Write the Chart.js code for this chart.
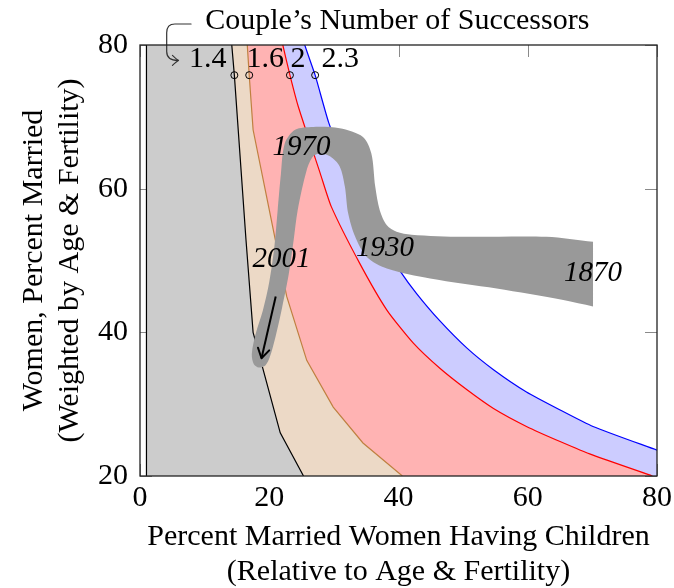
<!DOCTYPE html>
<html>
<head>
<meta charset="utf-8">
<script src="https://cdn.jsdelivr.net/npm/chart.js@4.4.1/dist/chart.umd.min.js"></script>
<style>
  html, body { margin: 0; padding: 0; background: #fff; }
  canvas { display: block; }
</style>
</head>
<body>
<canvas id="successorsChart" width="674" height="588"></canvas>
<script>
// ---- values ----
const xTicks = [0, 20, 40, 60, 80];
const yTicks = [20, 40, 60, 80];

const successorLevels = ['1.4', '1.6', '2', '2.3'];
const successorLabelX = [10.5, 19.4, 24.45, 31.0];
const successorLabelY = [78.05, 78.05, 78.05, 78.05];
const markerX = [14.6, 16.9, 23.2, 27.1];
const markerY = [75.8, 75.8, 75.8, 75.8];

// boundary curves: x = % having children, y = % married
const curve14X = [1, 1, 13.8, 14.2, 14.6, 16.4, 17.5, 21.7, 25.3];
const curve14Y = [20, 120, 84, 80, 75.8, 52.9, 40, 26, 20];
const curve16X = [1, 16.3, 16.6, 16.9, 17.5, 20.8, 22.7, 25.8, 29.9, 34.5, 40.6];
const curve16Y = [120, 84, 80, 75.8, 68.2, 53.5, 45, 36.1, 29.6, 24.6, 20];
const curve20X = [1, 21.1, 22.1, 23.2, 24.5, 27.9, 29.6, 34, 38.2, 42.3, 46.4, 50.6, 54.7, 59.8, 65, 70.1, 79.3];
const curve20Y = [120, 84, 80, 75.8, 71.4, 62.1, 57.5, 49.6, 43.1, 38.5, 35, 32, 29.4, 26.9, 24.8, 22.9, 20];
const curve23X = [1, 24.3, 25.5, 27.1, 29.2, 32, 35, 37.5, 40.2, 42.8, 46.3, 50.6, 54.7, 59.8, 65, 70.1, 80];
const curve23Y = [120, 84, 80, 75.8, 69.2, 62.5, 56.7, 52.5, 48.6, 45.4, 41.7, 37.8, 34.8, 31.7, 29.2, 26.9, 23.6];

// historical path band (outline, 1870 -> 1970 -> 2001 and back)
const bandX = [70.1, 62.9, 50, 42, 39.7, 38.2, 37.1, 36.4, 35.8, 34.5, 30.9, 26.8, 24, 22.4, 21.8, 21.3, 20.8, 20.0, 19.0, 17.9, 17.3, 17.6, 18.4, 19.4, 20.1, 21.0, 22.0, 23.0, 23.8, 24.4, 25.8, 26.8, 27.9, 29.4, 30.9, 31.7, 32.2, 33.3, 35.1, 38.2, 44.9, 55.2, 65.5, 70.1];
const bandY = [52.6, 53.3, 53.3, 53.6, 54, 54.9, 57, 60.3, 64.9, 67.2, 68.4, 68.6, 68.2, 66.3, 62, 57, 52, 47, 43, 39.8, 37, 35.6, 35.1, 35.4, 36.6, 39.5, 43.5, 48, 53, 57, 62.6, 64.5, 64.9, 64.5, 63.1, 60.3, 56.6, 53.3, 50.5, 48.9, 47.5, 46.1, 44.5, 43.6];

const yearLabels = ['1870', '1930', '1970', '2001'];
const yearLabelX = [70.1, 37.9, 25.0, 21.9];
const yearLabelY = [48.2, 51.7, 65.8, 50.1];

const trendArrowX = [21.0, 18.8];
const trendArrowY = [45.0, 36.4];

const noteText = 'Couple\u2019s Number of Successors';
const noteX = 10.1;
const noteY = 83.3;

const FONT = "'Liberation Serif', 'Times New Roman', serif";
const FSIZE = 30;
const pts = (xs, ys) => xs.map((x, i) => ({ x: x, y: ys[i] }));

function curveSet(xs, ys, line, fillColor, order, tension) {
      return {
            data: pts(xs, ys),
            borderColor: line,
            borderWidth: 1.2,
            backgroundColor: fillColor,
            fill: 'start',
            pointRadius: 0,
            tension: tension || 0,
            order: order,
      };
}

// --------------------------- PLUGIN ------------------------
const overlay = {
      id: 'overlay',
      beforeDatasetsDraw(chart) {
            // inner tick marks, hidden under the fills like the original
            const { ctx, chartArea: a, scales: { x, y } } = chart;
            ctx.save();
            ctx.strokeStyle = '#8a8a8a';
            ctx.lineWidth = 1;
            ctx.beginPath();
            xTicks.forEach(v => {
                  const px = Math.round(x.getPixelForValue(v)) + 0.5;
                  ctx.moveTo(px, a.bottom); ctx.lineTo(px, a.bottom - 12);
                  ctx.moveTo(px, a.top); ctx.lineTo(px, a.top + 12);
            });
            yTicks.forEach(v => {
                  const py = Math.round(y.getPixelForValue(v)) + 0.5;
                  ctx.moveTo(a.left, py); ctx.lineTo(a.left + 12, py);
                  ctx.moveTo(a.right, py); ctx.lineTo(a.right - 12, py);
            });
            ctx.stroke();
            ctx.restore();
      },
      afterDatasetsDraw(chart) {
            const { ctx, chartArea: a, scales: { x, y } } = chart;
            const X = v => x.getPixelForValue(v);
            const Y = v => y.getPixelForValue(v);
            ctx.save();

            // arrow head on the 2001 trend
            const tx = X(trendArrowX[1]), ty = Y(trendArrowY[1]);
            const ang = Math.atan2(ty - Y(trendArrowY[0]), tx - X(trendArrowX[0]));
            ctx.strokeStyle = '#000';
            ctx.lineWidth = 2;
            ctx.lineCap = 'round';
            ctx.beginPath();
            [-0.55, 0.55].forEach(d => {
                  ctx.moveTo(tx, ty);
                  ctx.lineTo(tx - 11 * Math.cos(ang + d), ty - 11 * Math.sin(ang + d));
            });
            ctx.stroke();

            // year labels
            ctx.fillStyle = '#000';
            ctx.font = 'italic 29px ' + FONT;
            ctx.textAlign = 'center';
            ctx.textBaseline = 'middle';
            yearLabels.forEach((t, i) => ctx.fillText(t, X(yearLabelX[i]), Y(yearLabelY[i])));

            // successor labels
            ctx.font = FSIZE + 'px ' + FONT;
            successorLevels.forEach((t, i) => ctx.fillText(t, X(successorLabelX[i]), Y(successorLabelY[i])));

            // note above the plot
            ctx.textAlign = 'left';
            ctx.fillText(noteText, X(noteX), Y(noteY));

            // hook arrow from the note
            ctx.strokeStyle = '#333';
            ctx.lineWidth = 1.2;
            ctx.beginPath();
            ctx.moveTo(X(7.9), Y(82.92));
            ctx.lineTo(X(5.4), Y(82.92));
            ctx.quadraticCurveTo(X(4.13), Y(82.92), X(4.13), Y(81.7));
            ctx.lineTo(X(4.13), Y(79.1));
            ctx.quadraticCurveTo(X(4.13), Y(77.85), X(5.9), Y(77.85));
            ctx.stroke();
            const hx = X(5.95), hy = Y(77.85);
            ctx.beginPath();
            ctx.moveTo(hx - 6, hy - 5); ctx.quadraticCurveTo(hx - 2, hy - 1, hx, hy);
            ctx.moveTo(hx - 6, hy + 5); ctx.quadraticCurveTo(hx - 2, hy + 1, hx, hy);
            ctx.stroke();

            // frame
            ctx.strokeStyle = '#222';
            ctx.lineWidth = 1.3;
            ctx.strokeRect(a.left, a.top, a.right - a.left, a.bottom - a.top);
            ctx.restore();
      }
};

Chart.defaults.font.family = FONT;
Chart.defaults.color = '#000';

const ctx = document.getElementById('successorsChart').getContext('2d');
new Chart(ctx, {
      type: 'line',
      data: {
            datasets: [
                  // trend arrow shaft
                  { data: pts(trendArrowX, trendArrowY), borderColor: '#000', borderWidth: 2, pointRadius: 0, fill: false, order: 1 },
                  // grey history band
                  { data: pts(bandX, bandY), borderWidth: 0, backgroundColor: '#999999', fill: 'shape', pointRadius: 0, tension: 0.3, order: 2 },
                  // circle markers
                  { data: pts(markerX, markerY), showLine: false, pointRadius: 3.5, pointBorderWidth: 1,
                    pointBorderColor: '#000', pointBackgroundColor: 'rgba(0,0,0,0)', fill: false, order: 3 },
                  curveSet(curve14X, curve14Y, '#000000', '#cccccc', 4),
                  curveSet(curve16X, curve16Y, '#bf8040', '#ecd9c6', 5),
                  curveSet(curve20X, curve20Y, '#ff0000', '#ffb3b3', 6, 0.2),
                  curveSet(curve23X, curve23Y, '#0000ff', '#ccccff', 7, 0.2),
            ]
      },
      options: {
            responsive: false,
            animation: false,
            devicePixelRatio: 1,
            layout: { padding: { top: 45, right: 17, left: 0, bottom: 0 } },
            plugins: { legend: { display: false }, tooltip: { enabled: false } },
            scales: {
                  x: {
                        type: 'linear',
                        min: 0,
                        max: 80,
                        afterFit: s => { s.height = 112; s.paddingLeft = 0; s.paddingRight = 0; },
                        afterBuildTicks: s => { s.ticks = xTicks.map(v => ({ value: v })); },
                        grid: { display: false, drawTicks: false },
                        border: { display: false },
                        ticks: { padding: 4, font: { size: FSIZE }, color: '#000' },
                        title: {
                              display: true,
                              text: ['Percent Married Women Having Children', '(Relative to Age & Fertility)'],
                              font: { size: FSIZE, lineHeight: 1.17 },
                              color: '#000',
                              padding: { top: 0, bottom: -2 }
                        }
                  },
                  y: {
                        type: 'linear',
                        min: 20,
                        max: 80,
                        afterFit: s => { s.width = 140; s.paddingTop = 0; s.paddingBottom = 0; },
                        afterBuildTicks: s => { s.ticks = yTicks.map(v => ({ value: v })); },
                        grid: { display: false, drawTicks: false },
                        border: { display: false },
                        ticks: { padding: 12, font: { size: FSIZE }, color: '#000' },
                        title: {
                              display: true,
                              text: ['Women, Percent Married', '(Weighted by Age & Fertility)'],
                              font: { size: FSIZE, lineHeight: 1.17 },
                              color: '#000',
                              padding: { top: 17, bottom: 0 }
                        }
                  }
            }
      },
      plugins: [overlay]
});
</script>
</body>
</html>
